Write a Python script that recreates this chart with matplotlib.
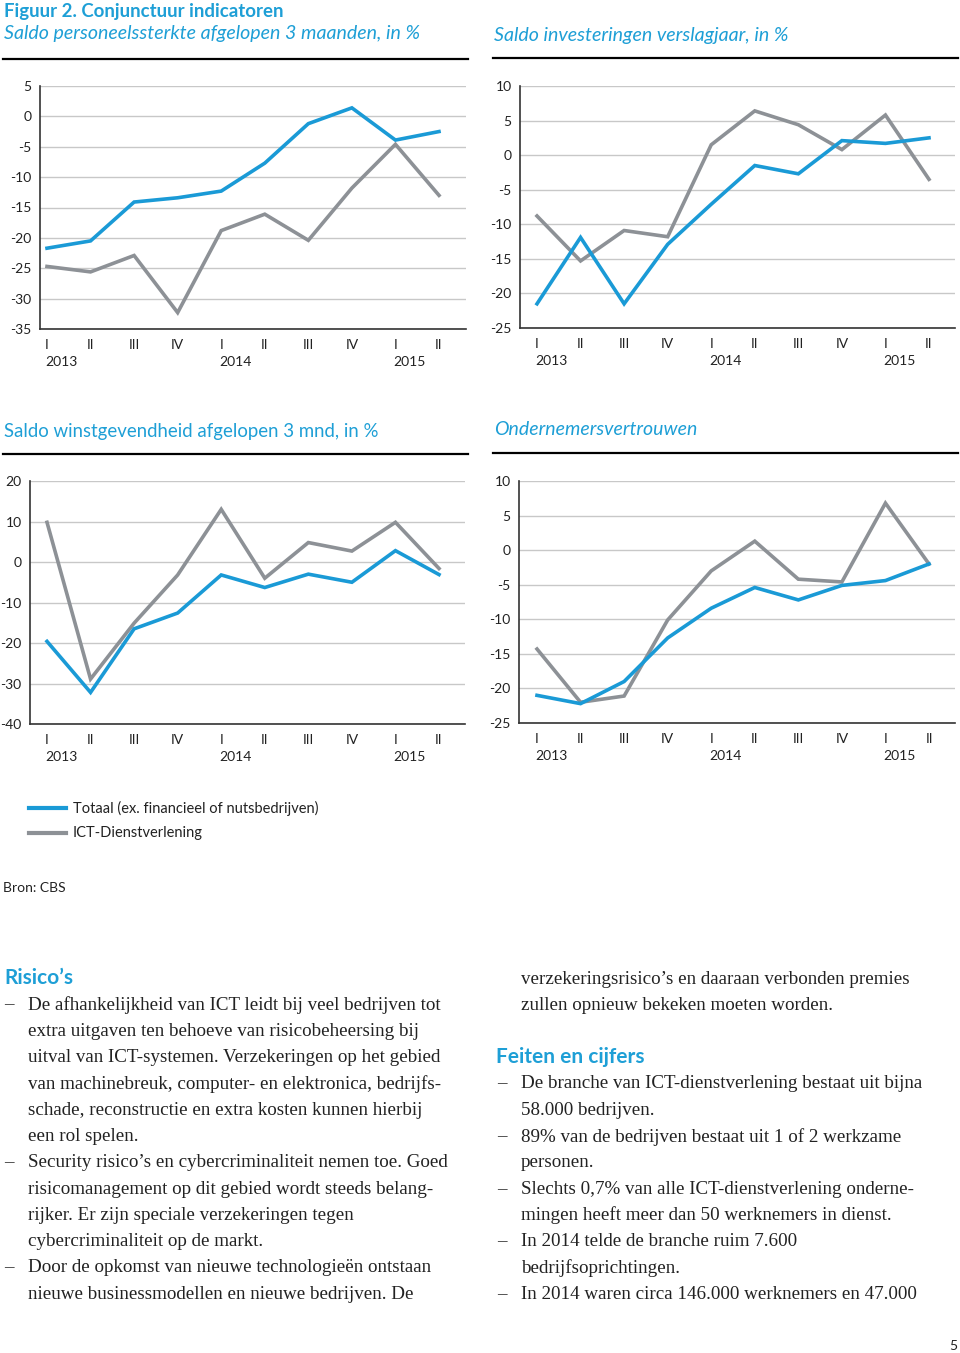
import numpy as np
import matplotlib.pyplot as plt
from matplotlib.lines import Line2D
import matplotlib.transforms as mtransforms

W, H = 960, 1353

# categories
quarters = ['I', 'II', 'III', 'IV', 'I', 'II', 'III', 'IV', 'I', 'II']
years = ['2013', '2014', '2015']
year_pos = [0, 4, 8]

# Saldo personeelssterkte afgelopen 3 maanden
pers_totaal = [-21.7, -20.5, -14.1, -13.4, -12.3, -7.7, -1.2, 1.4, -3.9, -2.5]
pers_ict = [-24.7, -25.6, -22.9, -32.3, -18.8, -16.1, -20.4, -11.8, -4.6, -13.0]

# Saldo investeringen verslagjaar
inv_totaal = [-21.5, -11.9, -21.5, -12.9, -7.1, -1.5, -2.7, 2.1, 1.7, 2.5]
inv_ict = [-8.8, -15.3, -10.9, -11.8, 1.5, 6.4, 4.4, 0.8, 5.8, -3.5]

# Saldo winstgevendheid afgelopen 3 mnd
winst_totaal = [-19.6, -32.2, -16.5, -12.6, -3.2, -6.3, -3.0, -5.0, 2.8, -3.1]
winst_ict = [9.8, -28.9, -15.1, -3.2, 13.0, -4.0, 4.8, 2.7, 9.8, -1.6]

# Ondernemersvertrouwen
vert_totaal = [-21.0, -22.2, -19.0, -12.7, -8.4, -5.4, -7.2, -5.1, -4.4, -2.0]
vert_ict = [-14.3, -22.0, -21.1, -10.1, -3.0, 1.3, -4.2, -4.6, 6.8, -2.0]

BLUE = '#1a9ad6'
GREY = '#8d9196'
TITLE_BLUE = '#1e9fd6'
SANS = 'Lato'
SERIF = 'Liberation Serif'
BODY = 13.7

fig = plt.figure(figsize=(W / 100, H / 100), dpi=100)


def fx(x):
    return x / W


def fy(y):
    return 1 - y / H


def px_axes(x0, y0, x1, y1):
    return fig.add_axes([fx(x0), fy(y1), (x1 - x0) / W, (y1 - y0) / H])


def rule(x0, x1, y):
    fig.add_artist(Line2D([fx(x0), fx(x1)], [fy(y), fy(y)], color='black', lw=1.6))


def panel(box, tick0, tick9, ylim, ystep, totaal, ict):
    x0, y0, x1, y1 = box
    ax = px_axes(x0, y0, x1, y1)
    step = (tick9 - tick0) / 9
    ax.set_xlim(-(tick0 - x0) / step, 9 + (x1 - tick9) / step)
    ax.set_ylim(*ylim)
    x = np.arange(len(quarters))
    ax.plot(x, ict, color=GREY, lw=2.6, solid_joinstyle='miter', zorder=3)
    ax.plot(x, totaal, color=BLUE, lw=2.6, solid_joinstyle='miter', zorder=4)
    ax.set_yticks(np.arange(ylim[0], ylim[1] + 0.1, ystep))
    ax.set_yticklabels([f'{int(v)}' for v in ax.get_yticks()], fontfamily=SANS, fontsize=10, color='#222222')
    ax.set_xticks(x)
    ax.set_xticklabels(quarters, fontfamily=SANS, fontsize=10, color='#222222')
    ax.tick_params(length=0, pad=7)
    ax.tick_params(axis='y', pad=6)
    ax.grid(axis='y', color='#c8c8c8', lw=1.0)
    ax.set_axisbelow(True)
    for s in ['top', 'right']:
        ax.spines[s].set_visible(False)
    for s in ['left', 'bottom']:
        ax.spines[s].set_color('#333333')
        ax.spines[s].set_linewidth(1.2)
    trans = mtransforms.blended_transform_factory(ax.transData, ax.transAxes)
    for yr, p in zip(years, year_pos):
        ax.text(p - 0.05, -0.135, yr, transform=trans, ha='left', va='center',
                fontfamily=SANS, fontsize=10, color='#222222')
    return ax


# header texts
fig.text(fx(4), fy(12), 'Figuur 2. Conjunctuur indicatoren', fontfamily=SANS, fontweight='bold',
         fontsize=13.4, color=TITLE_BLUE, va='center')
fig.text(fx(4), fy(34), 'Saldo personeelssterkte afgelopen 3 maanden, in %', fontfamily=SANS,
         style='italic', fontsize=14.1, color=TITLE_BLUE, va='center')
fig.text(fx(494), fy(35), 'Saldo investeringen verslagjaar, in %', fontfamily=SANS,
         style='italic', fontsize=14.1, color=TITLE_BLUE, va='center')
fig.text(fx(4), fy(432), 'Saldo winstgevendheid afgelopen 3 mnd, in %', fontfamily=SANS,
         fontsize=13.4, color=TITLE_BLUE, va='center')
fig.text(fx(494), fy(429), 'Ondernemersvertrouwen', fontfamily=SANS,
         style='italic', fontsize=14.0, color=TITLE_BLUE, va='center')

rule(3, 468, 59)
rule(493, 958, 58)
rule(3, 468, 454)
rule(493, 958, 453)

panel((40, 86, 466, 329), 47, 439, (-35, 5), 5, pers_totaal, pers_ict)
panel((520, 86, 955, 328), 537, 929, (-25, 10), 5, inv_totaal, inv_ict)
panel((30, 481, 465, 724), 47, 439, (-40, 20), 10, winst_totaal, winst_ict)
panel((519, 481, 955, 723), 537, 929, (-25, 10), 5, vert_totaal, vert_ict)

# legend
fig.add_artist(Line2D([fx(29), fx(66)], [fy(808), fy(808)], color=BLUE, lw=3))
fig.add_artist(Line2D([fx(29), fx(66)], [fy(833), fy(833)], color=GREY, lw=3))
fig.text(fx(73), fy(808), 'Totaal (ex. financieel of nutsbedrijven)', fontfamily=SANS, fontsize=10.5,
         color='#222222', va='center')
fig.text(fx(73), fy(833), 'ICT-Dienstverlening', fontfamily=SANS, fontsize=10.5,
         color='#222222', va='center')
fig.text(fx(3), fy(888), 'Bron: CBS', fontfamily=SANS, fontsize=10, color='#222222', va='center')

# body text
fig.text(fx(4), fy(978), 'Risico’s', fontfamily=SANS, fontweight='bold', fontsize=15,
         color=TITLE_BLUE, va='center')
left_lines = [
    ('–', 'De afhankelijkheid van ICT leidt bij veel bedrijven tot'),
    ('', 'extra uitgaven ten behoeve van risicobeheersing bij'),
    ('', 'uitval van ICT-systemen. Verzekeringen op het gebied'),
    ('', 'van machinebreuk, computer- en elektronica, bedrijfs-'),
    ('', 'schade, reconstructie en extra kosten kunnen hierbij'),
    ('', 'een rol spelen.'),
    ('–', 'Security risico’s en cybercriminaliteit nemen toe. Goed'),
    ('', 'risicomanagement op dit gebied wordt steeds belang-'),
    ('', 'rijker. Er zijn speciale verzekeringen tegen'),
    ('', 'cybercriminaliteit op de markt.'),
    ('–', 'Door de opkomst van nieuwe technologieën ontstaan'),
    ('', 'nieuwe businessmodellen en nieuwe bedrijven. De'),
]
for i, (dash, line) in enumerate(left_lines):
    y = 1005 + i * 26.3
    if dash:
        fig.text(fx(4), fy(y), dash, fontfamily=SERIF, fontsize=BODY, color='#222222', va='center')
    fig.text(fx(28), fy(y), line, fontfamily=SERIF, fontsize=BODY, color='#222222', va='center')

right_top = ['verzekeringsrisico’s en daaraan verbonden premies',
             'zullen opnieuw bekeken moeten worden.']
for i, line in enumerate(right_top):
    fig.text(fx(521), fy(979 + i * 26.3), line, fontfamily=SERIF, fontsize=BODY, color='#222222', va='center')

fig.text(fx(496), fy(1057), 'Feiten en cijfers', fontfamily=SANS, fontweight='bold', fontsize=15,
         color=TITLE_BLUE, va='center')
right_lines = [
    ('–', 'De branche van ICT-dienstverlening bestaat uit bijna'),
    ('', '58.000 bedrijven.'),
    ('–', '89% van de bedrijven bestaat uit 1 of 2 werkzame'),
    ('', 'personen.'),
    ('–', 'Slechts 0,7% van alle ICT-dienstverlening onderne-'),
    ('', 'mingen heeft meer dan 50 werknemers in dienst.'),
    ('–', 'In 2014 telde de branche ruim 7.600'),
    ('', 'bedrijfsoprichtingen.'),
    ('–', 'In 2014 waren circa 146.000 werknemers en 47.000'),
]
for i, (dash, line) in enumerate(right_lines):
    y = 1084 + i * 26.3
    if dash:
        fig.text(fx(497), fy(y), dash, fontfamily=SERIF, fontsize=BODY, color='#222222', va='center')
    fig.text(fx(521), fy(y), line, fontfamily=SERIF, fontsize=BODY, color='#222222', va='center')

fig.text(fx(953), fy(1346), '5', fontfamily=SANS, fontsize=10, color='#222222', va='center', ha='center')

fig.savefig('out.png', dpi=100)
